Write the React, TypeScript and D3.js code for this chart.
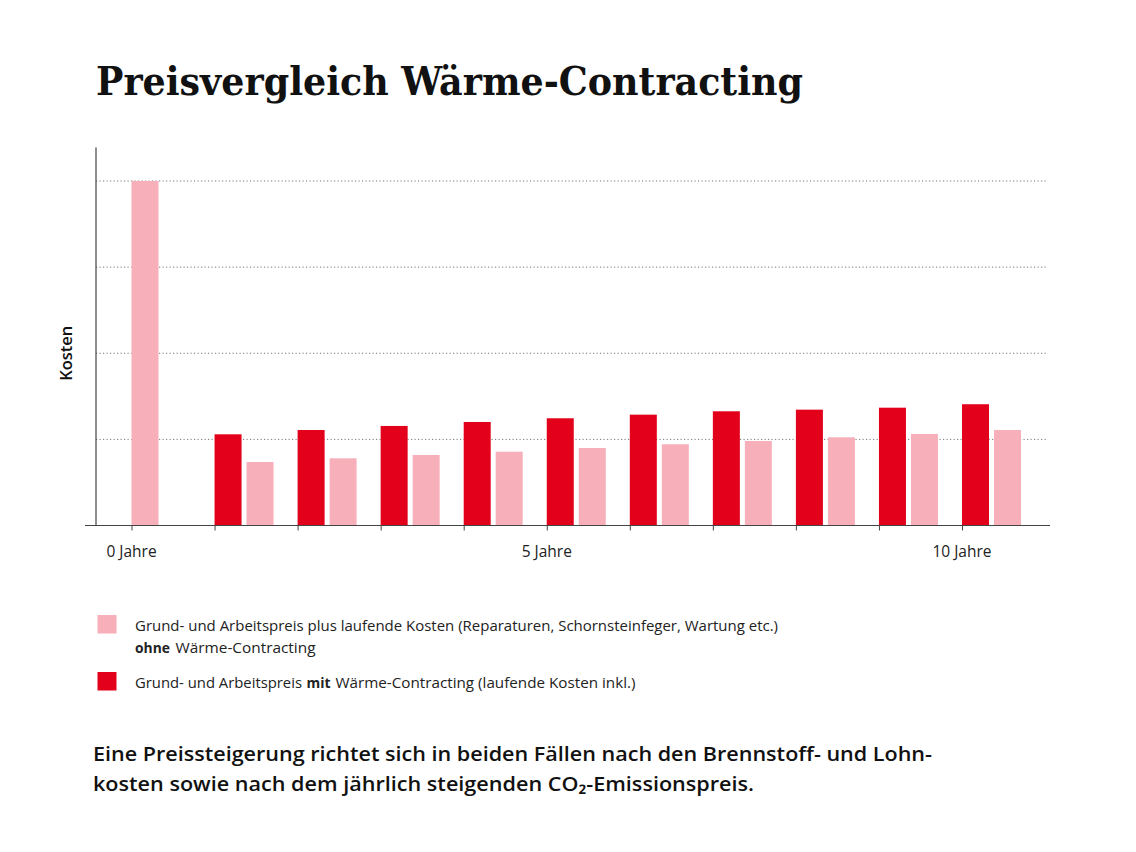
import * as d3 from "d3";
import { useRef, useEffect } from "react";

// years on the x axis
const years = [0, 1, 2, 3, 4, 5, 6, 7, 8, 9, 10];
const labelledYears = [0, 5, 10];
const yearLabel = (yr: number) => `${yr} Jahre`;

// costs (relative units, gridline every 1 unit)
const ohneContracting = [4.0, 0.737, 0.78, 0.819, 0.857, 0.9, 0.943, 0.981, 1.024, 1.063, 1.109];
const mitContracting = [null, 1.059, 1.109, 1.156, 1.202, 1.245, 1.287, 1.326, 1.345, 1.368, 1.408];
const gridValues = [1, 2, 3, 4];

const PINK = "#f7afba";
const RED = "#e2001a";
const SANS = "'Open Sans', Lato, sans-serif";

export default function App() {
  const gx = useRef<SVGGElement | null>(null);

  const width = 1136;
  const height = 852;
  const barW = 27;
  const gap = 5;

  const x = d3.scaleLinear([0, 10], [131.5, 962]);
  const y = d3.scaleLinear([0, 4], [525.5, 181]);
  const yTop = y(4.39);

  useEffect(() => {
    if (gx.current) {
      const g = d3.select(gx.current)
        .call(d3.axisBottom(x).tickValues(years).tickSize(5).tickFormat(() => ""));
      g.select(".domain").remove();
      g.selectAll(".tick line").attr("stroke", "#444").attr("stroke-width", 1);
    }
  }, [gx, x]);

  return (
    <div style={{ position: "absolute", left: 0, top: 0 }}>
      <svg width={width} height={height} style={{ display: "block", background: "#fff" }}>
        <text x={96} y={94.5} fontFamily="'DejaVu Serif', serif" fontWeight={700} fontSize={39}
          textLength={707} lengthAdjust="spacingAndGlyphs" fill="#111">
          Preisvergleich Wärme-Contracting
        </text>

        {/* gridlines */}
        {gridValues.map(v => (
          <line key={v} x1={96} x2={1046} y1={y(v)} y2={y(v)} stroke="#777" strokeWidth={1} strokeDasharray="1.2,2.3" />
        ))}

        {/* bars */}
        {years.map((yr, i) => {
          const red = mitContracting[i];
          const pinkX = red === null ? x(yr) : x(yr) + barW + gap;
          return (
            <g key={yr}>
              {red !== null && (
                <rect x={x(yr)} y={y(red)} width={barW} height={y(0) - y(red)} fill={RED} />
              )}
              <rect x={pinkX} y={y(ohneContracting[i])} width={barW} height={y(0) - y(ohneContracting[i])} fill={PINK} />
            </g>
          );
        })}

        {/* axes */}
        <line x1={96} x2={96} y1={yTop} y2={y(0)} stroke="#444" strokeWidth={1.2} />
        <line x1={85} x2={1050} y1={y(0)} y2={y(0)} stroke="#444" strokeWidth={1.2} />
        <g ref={gx} transform={`translate(0,${y(0)})`} />

        {labelledYears.map(yr => (
          <text key={yr} x={x(yr)} y={556.5} textAnchor="middle" fontFamily={SANS} fontSize={15.5} fill="#222">
            {yearLabel(yr)}
          </text>
        ))}

        <text transform={`translate(71.5,${y(2)}) rotate(-90)`} textAnchor="middle" fontFamily={SANS}
          fontWeight={600} fontSize={16} fill="#111" textLength={55} lengthAdjust="spacingAndGlyphs">
          Kosten
        </text>

        {/* legend */}
        <g fontFamily={SANS} fontSize={14.8} fill="#222">
          <rect x={97.5} y={615} width={19} height={18.5} fill={PINK} />
          <text x={135} y={630.5} textLength={643} lengthAdjust="spacingAndGlyphs">
            Grund- und Arbeitspreis plus laufende Kosten (Reparaturen, Schornsteinfeger, Wartung etc.)
          </text>
          <text x={135} y={652.5} fontWeight={700} textLength={35} lengthAdjust="spacingAndGlyphs">ohne</text>
          <text x={175.5} y={652.5} textLength={140} lengthAdjust="spacingAndGlyphs">Wärme-Contracting</text>

          <rect x={97.5} y={672} width={19} height={18.5} fill={RED} />
          <text x={135} y={687.5} textLength={167} lengthAdjust="spacingAndGlyphs">Grund- und Arbeitspreis</text>
          <text x={306.5} y={687.5} fontWeight={700} textLength={24} lengthAdjust="spacingAndGlyphs">mit</text>
          <text x={335.5} y={687.5} textLength={300} lengthAdjust="spacingAndGlyphs">Wärme-Contracting (laufende Kosten inkl.)</text>
        </g>

        {/* footnote */}
        <text x={93} y={761} fontFamily={SANS} fontWeight={600} fontSize={20.5} fill="#111" textLength={839} lengthAdjust="spacingAndGlyphs">
          Eine Preissteigerung richtet sich in beiden Fällen nach den Brennstoff- und Lohn-
        </text>
        <text x={93} y={791} fontFamily={SANS} fontWeight={600} fontSize={20.5} fill="#111" textLength={661} lengthAdjust="spacingAndGlyphs">
          kosten sowie nach dem jährlich steigenden CO₂-Emissionspreis.
        </text>
      </svg>
    </div>
  );
}
